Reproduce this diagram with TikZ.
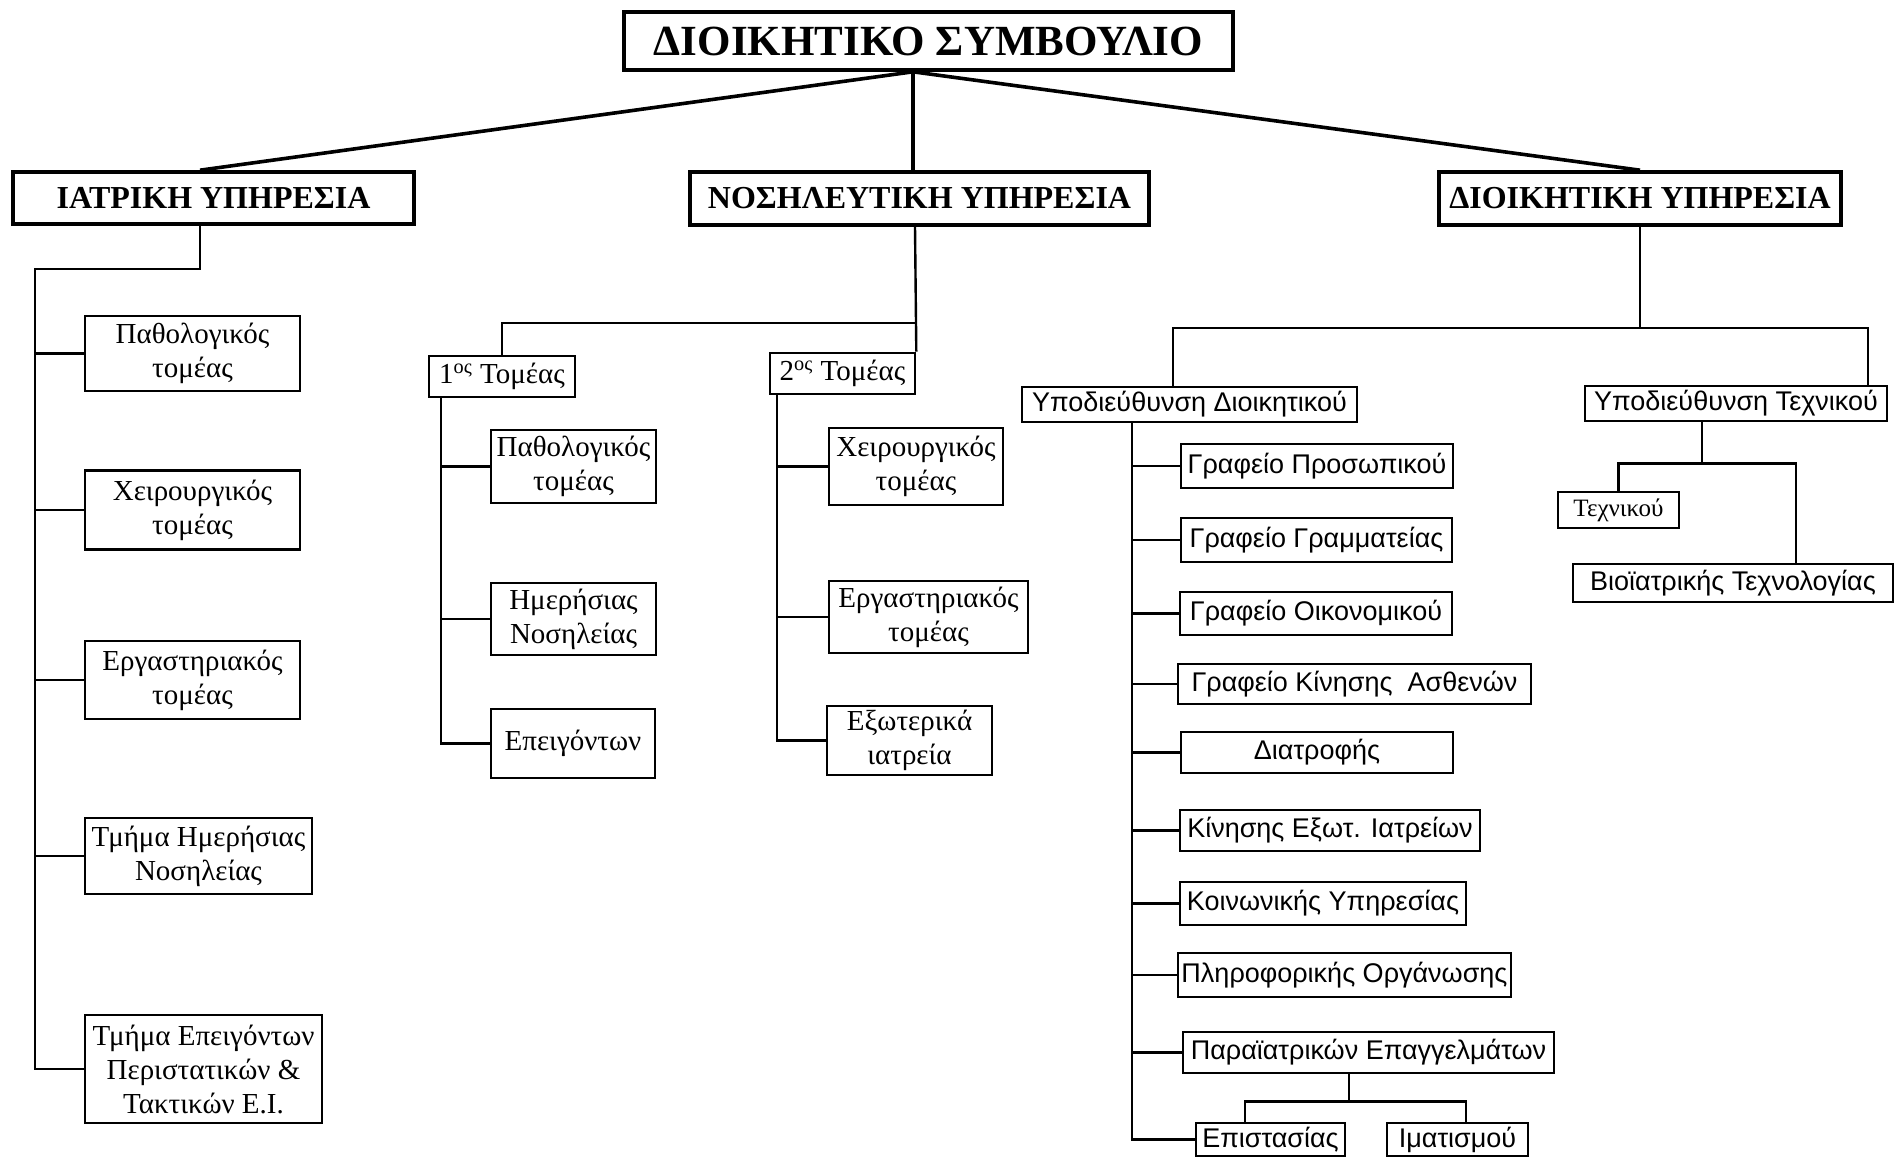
\documentclass[tikz,border=0pt]{standalone}
\usepackage{fontspec}
\setmainfont{Liberation Serif}
\newfontfamily\grsans{Liberation Sans}
\tikzset{%
  sz/.style 2 args = { minimum width=#1*0.5pt, minimum height=#2*0.5pt },
  topbox/.style = { draw, line width=1.8pt, inner sep=0pt, font=\bfseries\fontsize{21.5}{25}\selectfont },
  unitbox/.style = { draw, line width=1.8pt, inner sep=0pt, font=\bfseries\fontsize{16}{19}\selectfont },
  deptbox/.style = { draw, line width=1.3pt, inner sep=0pt, align=center, font=\fontsize{14.5}{17}\selectfont },
  officebox/.style = { draw, line width=1.3pt, inner sep=0pt, font=\grsans\fontsize{13.5}{16}\selectfont },
  mainline/.style = { line width=1.8pt },
  link/.style = { line width=1.2pt }
}

\begin{document}
\begin{tikzpicture}[x=0.5pt, y=-0.5pt]

  \useasboundingbox (0,0) rectangle (1894,1156);

  % Board and services
  \node[topbox, sz={609}{58}] (board) at (928.5,41) {ΔΙΟΙΚΗΤΙΚΟ ΣΥΜΒΟΥΛΙΟ};
  \node[unitbox, sz={401}{52}] (medical) at (213.5,198) {ΙΑΤΡΙΚΗ ΥΠΗΡΕΣΙΑ};
  \node[unitbox, sz={459}{53}] (nursing) at (919.5,198.5) {ΝΟΣΗΛΕΥΤΙΚΗ ΥΠΗΡΕΣΙΑ};
  \node[unitbox, sz={402}{53}] (admin) at (1640,198.5) {ΔΙΟΙΚΗΤΙΚΗ ΥΠΗΡΕΣΙΑ};

  \coordinate (root) at ([xshift=-7.75pt]board.south);
  \draw[mainline] (root) -- ([xshift=-6.75pt]medical.north);
  \draw[mainline] (root) -- (root |- nursing.north);
  \draw[mainline] (root) -- (admin.north);

  % Medical service
  \node[deptbox, sz={215}{75}] (med1) at (192.5,353.5) {Παθολογικός\\ τομέας};
  \node[deptbox, sz={215}{79}] (med2) at (192.5,510) {Χειρουργικός\\ τομέας};
  \node[deptbox, sz={215}{78}] (med3) at (192.5,680) {Εργαστηριακός\\ τομέας};
  \node[deptbox, sz={227}{76}] (med4) at (198.5,856) {Τμήμα Ημερήσιας\\ Νοσηλείας};
  \node[deptbox, sz={237}{108}] (med5) at (203.5,1069) {Τμήμα Επειγόντων\\ Περιστατικών \&\\ Τακτικών Ε.Ι.};

  \coordinate (medbus) at (35,269);
  \draw[link] ([xshift=-6.75pt]medical.south) |- (medbus) |- (med5.west);
  \foreach \n in {1,...,4} {
    \draw[link] (medbus |- med\n.west) -- (med\n.west);
  }

  % Nursing service
  \node[deptbox, sz={146}{41}] (sec1) at (502,376.5) {1\textsuperscript{ος} Τομέας};
  \node[deptbox, sz={145}{41}] (sec2) at (842.5,373.5) {2\textsuperscript{ος} Τομέας};

  \coordinate (nurbus) at (915,323);
  \draw[link] (nursing.south -| nurbus) -- (sec2.north east);
  \draw[link] (nurbus) -| (sec1.north);

  % 1st sector
  \node[deptbox, sz={165}{73}] (fst1) at (573.5,466.5) {Παθολογικός\\ τομέας};
  \node[deptbox, sz={165}{72}] (fst2) at (573.5,619) {Ημερήσιας\\ Νοσηλείας};
  \node[deptbox, sz={164}{69}] (fst3) at (573,743.5) {Επειγόντων};

  \coordinate (fstbus) at ([xshift=6.5pt]sec1.south west);
  \draw[link] (fstbus) |- (fst3.west);
  \foreach \n in {1,2} {
    \draw[link] (fstbus |- fst\n.west) -- (fst\n.west);
  }

  % 2nd sector
  \node[deptbox, sz={174}{77}] (snd1) at (916,466.5) {Χειρουργικός\\ τομέας};
  \node[deptbox, sz={199}{72}] (snd2) at (928.5,617) {Εργαστηριακός\\ τομέας};
  \node[deptbox, sz={165}{69}] (snd3) at (909.5,740.5) {Εξωτερικά\\ ιατρεία};

  \coordinate (sndbus) at ([xshift=4pt]sec2.south west);
  \draw[link] (sndbus) |- (snd3.west);
  \foreach \n in {1,2} {
    \draw[link] (sndbus |- snd\n.west) -- (snd\n.west);
  }

  % Administrative service
  \node[officebox, sz={335}{35}] (sub1) at (1189.5,404.5) {Υποδιεύθυνση Διοικητικού};
  \node[officebox, sz={302}{35}] (sub2) at (1736,403.5) {Υποδιεύθυνση Τεχνικού};

  \coordinate (admbus) at (1640,328);
  \draw[link] (admin.south) -- (admbus);
  \draw[link] ([xshift=-8.25pt]sub1.north) |- (admbus) -| ([xshift=66pt]sub2.north);

  % Offices
  \node[officebox, sz={272}{44}] (off1) at (1317,466) {Γραφείο Προσωπικού};
  \node[officebox, sz={271}{44}] (off2) at (1316.5,540) {Γραφείο Γραμματείας};
  \node[officebox, sz={272}{43}] (off3) at (1316,613.5) {Γραφείο Οικονομικού};
  \node[officebox, sz={353}{40}] (off4) at (1354.5,684) {Γραφείο Κίνησης~ Ασθενών};
  \node[officebox, sz={272}{41}] (off5) at (1317,752.5) {Διατροφής};
  \node[officebox, sz={300}{41}] (off6) at (1330,830.5) {Κίνησης Εξωτ. Ιατρείων};
  \node[officebox, sz={286}{43}] (off7) at (1323,903.5) {Κοινωνικής Υπηρεσίας};
  \node[officebox, sz={333}{44}] (off8) at (1344.5,975) {Πληροφορικής Οργάνωσης};
  \node[officebox, sz={371}{41}] (off9) at (1368.5,1052.5) {Παραϊατρικών Επαγγελμάτων};
  \node[officebox, sz={149}{33}] (off10) at (1270.5,1139.5) {Επιστασίας};
  \node[officebox, sz={141}{33}] (off11) at (1457.5,1139.5) {Ιματισμού};

  \coordinate (offbus) at ([xshift=55.5pt]sub1.south west);
  \draw[link] (offbus) |- (off10.west);
  \foreach \n in {1,...,9} {
    \draw[link] (offbus |- off\n.west) -- (off\n.west);
  }

  \coordinate (parbus) at ([xshift=-9.75pt,yshift=-13.5pt]off9.south);
  \draw[link] ([xshift=-9.75pt]off9.south) -- (parbus);
  \draw[link] ([xshift=-12.75pt]off10.north) |- (parbus) -| ([xshift=4.25pt]off11.north);

  % Technical
  \node[deptbox, sz={121}{36}, font=\fontsize{12.5}{15}\selectfont] (tec1) at (1618.5,510) {Τεχνικού};
  \node[officebox, sz={320}{38}] (tec2) at (1733,583) {Βιοϊατρικής Τεχνολογίας};

  \coordinate (tecbus) at ([xshift=-17pt,yshift=-20.5pt]sub2.south);
  \draw[link] ([xshift=-17pt]sub2.south) -- (tecbus);
  \draw[link] (tec1.north) |- (tecbus) -| ([xshift=31.5pt]tec2.north);

\end{tikzpicture}
\end{document}
